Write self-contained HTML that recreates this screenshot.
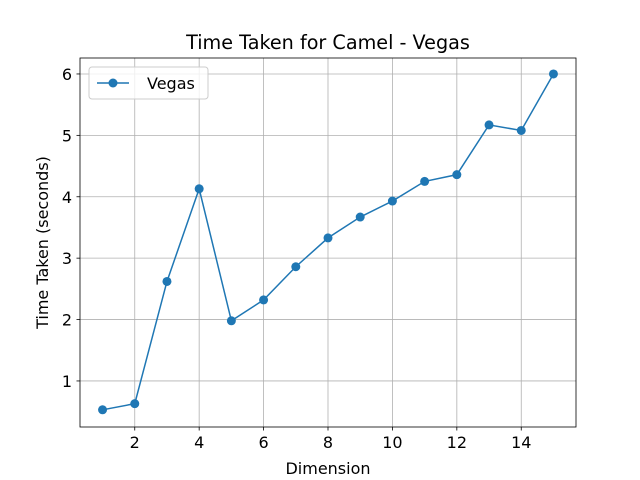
<!DOCTYPE html>
<html><head><meta charset="utf-8"><style>
body{margin:0;background:#fff;}
svg{display:block;font-family:"DejaVu Sans","Liberation Sans",sans-serif;}
</style></head><body>
<svg width="640" height="480" viewBox="0 0 640 480">
<rect width="640" height="480" fill="#fff"/>
<g id="grid"></g>
<g id="ticks"></g>
<g id="series"></g>
<rect x="80" y="58" width="496" height="369" fill="none" stroke="#000" stroke-width="0.8"/>
<text x="328" y="49" font-size="19.2" text-anchor="middle">Time Taken for Camel - Vegas</text>
<text x="328" y="474" font-size="16" text-anchor="middle">Dimension</text>
<text transform="translate(48,242.5) rotate(-90)" font-size="16" text-anchor="middle">Time Taken (seconds)</text>
<g>
<rect x="89" y="67" width="119" height="32" rx="3" fill="#fff" fill-opacity="0.8" stroke="#ccc"/>
<line x1="97" y1="83" x2="129" y2="83" stroke="#1f77b4" stroke-width="1.5"/>
<circle cx="113" cy="83" r="4.5" fill="#1f77b4"/>
<text x="147" y="89" font-size="16">Vegas</text>
</g>
</svg>
<script>
const xs=[1,2,3,4,5,6,7,8,9,10,11,12,13,14,15];
const ys=[0.53,0.63,2.62,4.13,1.98,2.32,2.86,3.33,3.67,3.93,4.25,4.36,5.17,5.08,6.0];
const xTicks=[2,4,6,8,10,12,14];
const yTicks=[1,2,3,4,5,6];
const L=80,R=576,T=58,B=427,x0=0.3,x1=15.7,y0=0.25,y1=6.26;
const sx=v=>L+(v-x0)/(x1-x0)*(R-L);
const sy=v=>B-(v-y0)/(y1-y0)*(B-T);
const NS='http://www.w3.org/2000/svg';
const mk=(t,a,p)=>{const e=document.createElementNS(NS,t);for(const k in a)e.setAttribute(k,a[k]);p.appendChild(e);return e;};
const g=document.getElementById('grid'),tk=document.getElementById('ticks'),s=document.getElementById('series');
xTicks.forEach(v=>{const x=sx(v);
const l=mk('line',{x1:x,x2:x,y1:T,y2:B,stroke:'#b0b0b0','stroke-width':0.8},g);


const t=mk('line',{x1:x,x2:x,y1:B,y2:B+3.5,stroke:'#000','stroke-width':0.8},tk);


const tx=mk('text',{x:x,y:B+21,'font-size':16,'text-anchor':'middle'},tk);tx.textContent=v;

});
yTicks.forEach(v=>{const y=sy(v);
const l=mk('line',{x1:L,x2:R,y1:y,y2:y,stroke:'#b0b0b0','stroke-width':0.8},g);


const t=mk('line',{x1:L-3.5,x2:L,y1:y,y2:y,stroke:'#000','stroke-width':0.8},tk);


const tx=mk('text',{x:L-8,y:y+6,'font-size':16,'text-anchor':'end'},tk);tx.textContent=v;

});
const pl=mk('polyline',{points:xs.map((v,i)=>sx(v)+','+sy(ys[i])).join(' '),fill:'none',stroke:'#1f77b4','stroke-width':1.5},s);


xs.forEach((v,i)=>{const c=mk('circle',{cx:sx(v),cy:sy(ys[i]),r:4.5,fill:'#1f77b4'},s);

});
</script>
</body></html>
